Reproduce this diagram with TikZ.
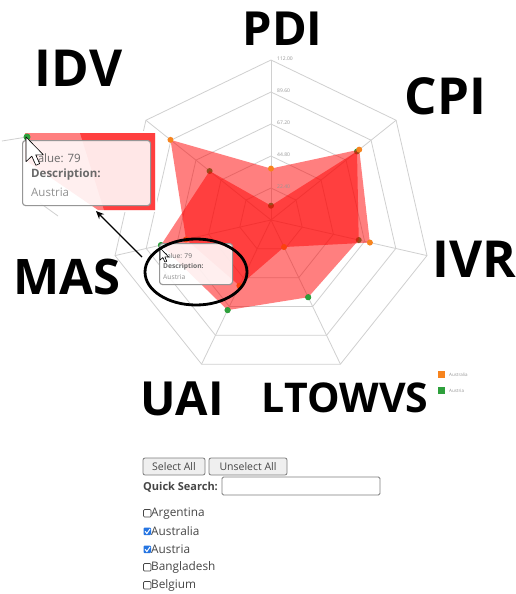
\documentclass[tikz,border=0pt]{standalone}
\usepackage{fontspec}
\setmainfont{Open Sans}
\usetikzlibrary{shapes.geometric,arrows.meta,calc}

\definecolor{gridgray}{RGB}{208,208,208}
\definecolor{ausorange}{RGB}{247,132,30}
\definecolor{atgreen}{RGB}{46,160,60}
\definecolor{labelgray}{RGB}{150,150,150}
\definecolor{tiptext}{RGB}{105,105,105}
\definecolor{tiplight}{RGB}{145,145,145}
\definecolor{tipborder}{RGB}{150,150,150}
\definecolor{btnfill}{RGB}{239,239,239}
\definecolor{btnborder}{RGB}{125,125,125}
\definecolor{uitext}{RGB}{70,70,70}
\definecolor{chkblue}{RGB}{38,117,226}

\tikzset{
  gridline/.style={draw=gridgray, line width=0.8pt},
  areafill/.style={fill=red, fill opacity=0.5},
  ausdot/.style={fill=ausorange},
  atdot/.style={fill=atgreen},
  ticklbl/.style={font=\fontsize{5}{6}\selectfont, text=labelgray, anchor=west, inner sep=0pt},
  biglbl/.style={font=\fontsize{51}{51}\selectfont\bfseries, inner sep=0pt},
  tipbox/.style={draw=tipborder, line width=1.1pt, rounded corners=3pt, fill=white, fill opacity=0.88, inner sep=0pt, anchor=north west},
  bigtxt/.style={font=\fontsize{11.5}{13}\selectfont, text=tiptext, anchor=west, inner sep=0pt},
  smalltxt/.style={font=\fontsize{6.7}{8}\selectfont, text=tiptext, anchor=west, inner sep=0pt},
  legendtxt/.style={font=\fontsize{4.5}{5}\selectfont, text=labelgray, anchor=west, inner sep=0pt},
  btn/.style={draw=btnborder, fill=btnfill, line width=0.8pt, rounded corners=2pt, inner sep=0pt,
              font=\fontsize{10.5}{12}\selectfont, text=uitext},
  cbox/.style={draw=uitext, line width=0.7pt, rounded corners=1pt, fill=white},
  cboxon/.style={fill=chkblue, rounded corners=1pt},
  cblbl/.style={font=\fontsize{11.8}{13}\selectfont, text=uitext, anchor=west, inner sep=0pt},
  mousecursor/.pic={
    \filldraw[fill=white, draw=black, line width=0.6pt, line join=round]
      (0,0) -- (0,17) -- (4,13.2) -- (6.8,19.5) -- (9.4,18.4) -- (6.7,12.3) -- (12,12.3) -- cycle;
  }
}

\begin{document}
\begin{tikzpicture}[x=1pt, y=-1pt]
\useasboundingbox (0,0) rectangle (515,594);
\fill[white] (0,0) rectangle (515,594);

% ---------- radar grid and data ----------
\begin{scope}[shift={(271,220)}]
  \foreach \r in {32,64,96,128,160}
    \draw[gridline] (-90:\r) \foreach \k in {1,...,6}{ -- ({-90+\k*360/7}:\r)} -- cycle;
  \foreach \k in {0,...,6}
    \draw[gridline] (0,0) -- ({-90+\k*360/7}:160);
  % Australia: PDI, CPI, IVR, LTOWVS, UAI, MAS, IDV
  \foreach \v [count=\k from 0] in {36,79,71,21,51,61,90}
    \coordinate (au\k) at ({-90+\k*360/7}:{\v*160/112});
  % Austria
  \foreach \v [count=\k from 0] in {10,77,63,60,70,79,55}
    \coordinate (at\k) at ({-90+\k*360/7}:{\v*160/112});
\end{scope}

\foreach \k in {0,...,6} \fill[atdot] (at\k) circle[radius=3pt];
\fill[areafill] (au0) -- (au1) -- (au2) -- (au3) -- (au4) -- (au5) -- (au6) -- cycle;
\foreach \k in {0,...,6} \fill[ausdot] (au\k) circle[radius=3pt];
\fill[areafill] (at0) -- (at1) -- (at2) -- (at3) -- (at4) -- (at5) -- (at6) -- cycle;
\foreach \k in {3,4,5} \fill[atdot] (at\k) circle[radius=3pt];

% scale labels along the PDI axis
\node[ticklbl] (t1) at (277,187) {22.40};
\node[ticklbl] (t2) at (277,155) {44.80};
\node[ticklbl] (t3) at (277,123) {67.20};
\node[ticklbl] (t4) at (277,91)  {89.60};
\node[ticklbl] (t5) at (277,59)  {112.00};

% ---------- hover tooltip on the chart ----------
\node[tipbox, minimum width=73pt, minimum height=41pt] (smalltip) at (159,243) {};
\node[smalltxt] (sv) at (163,256) {Value: 79};
\node[smalltxt] (sd) at (163,266.5) {\bfseries Description:};
\node[smalltxt, text=tiplight] (sa) at (163,277) {Austria};
\pic[scale=0.72] at (160,248) {mousecursor};

% highlight ring
\node[draw=black, line width=2.8pt, ellipse, minimum width=102pt, minimum height=66pt, inner sep=0pt] (hl) at (196,272) {};

% ---------- magnified tooltip ----------
\fill[white] (20,131) rectangle (157,212);
\fill[red, fill opacity=0.5] (25,133) -- (155,133) -- (155,210) -- (98,210) -- (25,160) -- cycle;
\fill[red, fill opacity=0.5] (80,133) -- (155,133) -- (155,210) -- (104,210) -- cycle;
\draw[gridline] (2,141) -- (27,137);
\draw[gridline] (40,203) -- (58,216);
\fill[atgreen] (27,137) circle[radius=3.5pt];
\node[tipbox, minimum width=128pt, minimum height=65pt] (bigtip) at (22,140) {};
\node[bigtxt] (bv) at (31,158) {Value: 79};
\node[bigtxt] (bd) at (31,175) {\bfseries Description:};
\node[bigtxt, text=tiplight] (ba) at (31,192) {Austria};
\pic[scale=1.45] at (26,137) {mousecursor};

% pointer from the ring to the magnified view
\coordinate (arrowtail) at (142,257);
\coordinate (arrowtip) at (96,211);
\draw[line width=1.3pt, -{Stealth[length=8pt,width=7pt]}] (arrowtail) -- (arrowtip);

% ---------- legend ----------
\fill[ausorange] (438,371) rectangle (445,378);
\node[legendtxt] (lg1) at (449,374.5) {Australia};
\fill[atgreen] (438,387) rectangle (445,394);
\node[legendtxt] (lg2) at (449,390.5) {Austria};

% ---------- axis titles ----------
\node[biglbl, font=\fontsize{47}{47}\selectfont\bfseries] (pdi) at (282.5,29) {PDI};
\node[biglbl] (idv) at (78.5,68.5) {IDV};
\node[biglbl] (cpi) at (445.5,96.5) {CPI};
\node[biglbl] (ivr) at (474,259) {IVR};
\node[biglbl, font=\fontsize{49}{49}\selectfont\bfseries] (mas) at (66.5,276.5) {MAS};
\node[biglbl, font=\fontsize{47}{47}\selectfont\bfseries] (uai) at (182,398.5) {UAI};
\node[biglbl, font=\fontsize{41}{41}\selectfont\bfseries] (lto) at (345,397.5) {LTOWVS};

% ---------- selection controls ----------
\node[btn, minimum width=62pt, minimum height=17pt] (selall) at (174,466.5) {Select All};
\node[btn, minimum width=78pt, minimum height=17pt] (unselall) at (248,466.5) {Unselect All};
\node[cblbl, font=\fontsize{11}{12}\selectfont\bfseries] (qs) at (143,487) {Quick Search:};
\node[draw=btnborder, line width=0.8pt, rounded corners=1.5pt, fill=white, minimum width=158pt, minimum height=18pt, inner sep=0pt] (search) at (301,486) {};

\draw[cbox] (143.5,509.5) rectangle (151,517);
\node[cblbl] (c1) at (151,513.5) {Argentina};
\fill[cboxon] (143.5,527.5) rectangle (151,535);
\draw[white, line width=1pt] (145,531.3) -- (146.9,533.5) -- (150,529);
\node[cblbl] (c2) at (151,531.5) {Australia};
\fill[cboxon] (143.5,545.5) rectangle (151,553);
\draw[white, line width=1pt] (145,549.3) -- (146.9,551.5) -- (150,547);
\node[cblbl] (c3) at (151,549.5) {Austria};
\draw[cbox] (143.5,563.5) rectangle (151,571);
\node[cblbl] (c4) at (151,567.5) {Bangladesh};
\draw[cbox] (143.5,581.5) rectangle (151,589);
\node[cblbl] (c5) at (151,585.5) {Belgium};
\end{tikzpicture}
\end{document}
